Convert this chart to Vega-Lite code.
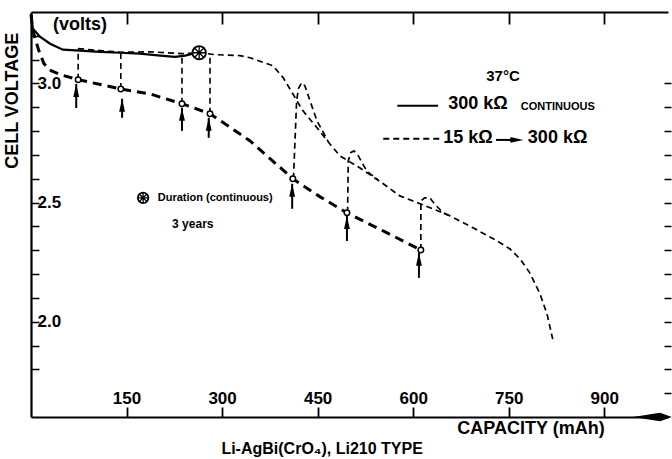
{
  "$schema": "https://vega.github.io/schema/vega-lite/v6.json",
  "width": 637,
  "height": 405,
  "autosize": {"type": "none"},
  "padding": {"left": 31, "top": 12, "right": 4, "bottom": 42},
  "background": "white",
  "config": {
    "view": {"stroke": null},
    "font": "Liberation Sans",
    "axis": {"domainColor": "black", "tickColor": "black", "labelColor": "black", "grid": false, "title": null, "labelFont": "Liberation Sans", "labelFontWeight": "bold"}
  },
  "datasets": {
    "solid": [
      {"c": 0, "v": 3.29}, {"c": 3, "v": 3.23}, {"c": 14, "v": 3.196}, {"c": 30, "v": 3.167},
      {"c": 50, "v": 3.142}, {"c": 77, "v": 3.138}, {"c": 108, "v": 3.133}, {"c": 140, "v": 3.129},
      {"c": 171, "v": 3.125}, {"c": 203, "v": 3.117}, {"c": 226, "v": 3.112}, {"c": 242, "v": 3.117},
      {"c": 257, "v": 3.127}, {"c": 264, "v": 3.129}
    ],
    "heavy": [
      {"c": 0, "v": 3.29}, {"c": 3, "v": 3.22}, {"c": 12, "v": 3.14}, {"c": 20, "v": 3.085},
      {"c": 28, "v": 3.058}, {"c": 46, "v": 3.037}, {"c": 74, "v": 3.016}, {"c": 141, "v": 2.977},
      {"c": 187, "v": 2.956}, {"c": 237, "v": 2.915}, {"c": 281, "v": 2.873}, {"c": 344, "v": 2.759},
      {"c": 411, "v": 2.6}, {"c": 454, "v": 2.524}, {"c": 496, "v": 2.457}, {"c": 556, "v": 2.377},
      {"c": 612, "v": 2.301}
    ],
    "thin": [
      {"seg": "u", "i": 1, "c": 74, "v": 3.146}, {"seg": "u", "i": 2, "c": 108, "v": 3.138},
      {"seg": "u", "i": 3, "c": 141, "v": 3.131}, {"seg": "u", "i": 4, "c": 187, "v": 3.133},
      {"seg": "u", "i": 5, "c": 237, "v": 3.125}, {"seg": "u", "i": 6, "c": 264, "v": 3.129},
      {"seg": "u", "i": 7, "c": 289, "v": 3.121}, {"seg": "u", "i": 8, "c": 328, "v": 3.117},
      {"seg": "u", "i": 9, "c": 344, "v": 3.108}, {"seg": "u", "i": 10, "c": 380, "v": 3.074},
      {"seg": "u", "i": 11, "c": 396, "v": 3.024}, {"seg": "u", "i": 12, "c": 410, "v": 2.961},
      {"seg": "u", "i": 13, "c": 427, "v": 2.885}, {"seg": "u", "i": 14, "c": 449, "v": 2.814},
      {"seg": "u", "i": 15, "c": 469, "v": 2.747}, {"seg": "u", "i": 16, "c": 485, "v": 2.696},
      {"seg": "u", "i": 17, "c": 516, "v": 2.646}, {"seg": "u", "i": 18, "c": 553, "v": 2.579},
      {"seg": "u", "i": 19, "c": 579, "v": 2.528}, {"seg": "u", "i": 20, "c": 611, "v": 2.495},
      {"seg": "u", "i": 21, "c": 658, "v": 2.444}, {"seg": "u", "i": 22, "c": 694, "v": 2.394},
      {"seg": "u", "i": 23, "c": 732, "v": 2.339}, {"seg": "u", "i": 24, "c": 752, "v": 2.305},
      {"seg": "u", "i": 25, "c": 768, "v": 2.263}, {"seg": "u", "i": 26, "c": 783, "v": 2.205},
      {"seg": "u", "i": 27, "c": 799, "v": 2.117}, {"seg": "u", "i": 28, "c": 810, "v": 2.033},
      {"seg": "u", "i": 29, "c": 819, "v": 1.927},
      {"seg": "b", "i": 1, "c": 412, "v": 2.6}, {"seg": "b", "i": 2, "c": 417, "v": 2.927},
      {"seg": "b", "i": 3, "c": 420, "v": 2.98}, {"seg": "b", "i": 4, "c": 425, "v": 3.003},
      {"seg": "b", "i": 5, "c": 430, "v": 2.99}, {"seg": "b", "i": 6, "c": 438, "v": 2.927},
      {"seg": "b", "i": 7, "c": 449, "v": 2.843}, {"seg": "b", "i": 8, "c": 466, "v": 2.759},
      {"seg": "c", "i": 1, "c": 497, "v": 2.457}, {"seg": "c", "i": 2, "c": 498, "v": 2.675},
      {"seg": "c", "i": 3, "c": 502, "v": 2.71}, {"seg": "c", "i": 4, "c": 507, "v": 2.717},
      {"seg": "c", "i": 5, "c": 513, "v": 2.7}, {"seg": "c", "i": 6, "c": 527, "v": 2.633},
      {"seg": "c", "i": 7, "c": 545, "v": 2.595},
      {"seg": "d", "i": 1, "c": 612, "v": 2.301}, {"seg": "d", "i": 2, "c": 612, "v": 2.507},
      {"seg": "d", "i": 3, "c": 618, "v": 2.52}, {"seg": "d", "i": 4, "c": 626, "v": 2.52},
      {"seg": "d", "i": 5, "c": 635, "v": 2.49}, {"seg": "d", "i": 6, "c": 647, "v": 2.457},
      {"seg": "d", "i": 7, "c": 658, "v": 2.444}
    ],
    "verticals": [
      {"c": 74, "v": 3.016, "v2": 3.146}, {"c": 141, "v": 2.977, "v2": 3.131},
      {"c": 237, "v": 2.915, "v2": 3.125}, {"c": 281, "v": 2.873, "v2": 3.121}
    ],
    "circles": [
      {"c": 74, "v": 3.016}, {"c": 141, "v": 2.977}, {"c": 237, "v": 2.915}, {"c": 281, "v": 2.873},
      {"c": 411, "v": 2.6}, {"c": 496, "v": 2.457}, {"c": 612, "v": 2.301}
    ],
    "arrows": [
      {"c": 71, "v": 2.897, "v2": 2.998}, {"c": 143, "v": 2.856, "v2": 2.936},
      {"c": 237, "v": 2.801, "v2": 2.898}, {"c": 279, "v": 2.772, "v2": 2.856},
      {"c": 410, "v": 2.474, "v2": 2.579}, {"c": 496, "v": 2.339, "v2": 2.444},
      {"c": 609, "v": 2.184, "v2": 2.289}
    ]
  },
  "layer": [
    {
      "data": {"name": "solid"},
      "mark": {"type": "line", "color": "black", "strokeWidth": 2.2},
      "encoding": {
        "x": {"field": "c", "type": "quantitative", "scale": {"domain": [0, 1000], "nice": false, "zero": false},
          "axis": {"orient": "bottom", "values": [150, 300, 450, 600, 750, 900], "tickSize": -10, "tickWidth": 1.8, "domainWidth": 2.2, "labelPadding": -4, "labelBaseline": "alphabetic", "labelFontSize": 17, "labelOverlap": false, "labelFlush": false, "labelBound": false}},
        "y": {"field": "v", "type": "quantitative", "scale": {"domain": [1.6, 3.3], "nice": false, "zero": false},
          "axis": {"orient": "left", "values": [1.8, 1.9, 2.0, 2.1, 2.2, 2.3, 2.4, 2.5, 2.6, 2.7, 2.8, 2.9, 3.0, 3.1, 3.2], "format": ".1f", "labelExpr": "indexof(['2.0','2.5','3.0'], datum.label) >= 0 ? datum.label : ''", "tickSize": -8, "tickWidth": 1.5, "domainWidth": 2.2, "labelAlign": "left", "labelPadding": 2, "labelBaseline": "middle", "labelFontSize": 17, "labelOverlap": false, "labelFlush": false, "labelBound": false}}
      }
    },
    {
      "data": {"name": "heavy"},
      "mark": {"type": "line", "color": "black", "strokeWidth": 3, "strokeDash": [9, 6]},
      "encoding": {
        "x": {"field": "c", "type": "quantitative", "scale": {"domain": [0, 1000], "nice": false, "zero": false},
          "axis": {"orient": "top", "values": [150, 300, 450, 600, 750, 900], "labels": false, "tickSize": -12, "tickWidth": 1.8, "domainWidth": 2.2}},
        "y": {"field": "v", "type": "quantitative", "scale": {"domain": [1.6, 3.3], "nice": false, "zero": false},
          "axis": {"orient": "right", "values": [1.7, 1.8, 1.9, 2.0, 2.1, 2.2, 2.3, 2.4, 2.5, 2.6, 2.7, 2.8, 2.9, 3.0], "labels": false, "domain": false, "tickSize": 7, "tickWidth": 1.5, "offset": -4}}
      }
    },
    {
      "data": {"name": "thin"},
      "mark": {"type": "line", "color": "black", "strokeWidth": 1.7, "strokeDash": [6, 4]},
      "encoding": {
        "x": {"field": "c", "type": "quantitative", "scale": {"domain": [0, 1000], "nice": false, "zero": false}, "axis": null},
        "y": {"field": "v", "type": "quantitative", "scale": {"domain": [1.6, 3.3], "nice": false, "zero": false}, "axis": null},
        "detail": {"field": "seg"},
        "order": {"field": "i", "type": "quantitative"}
      }
    },
    {
      "data": {"name": "verticals"},
      "mark": {"type": "rule", "color": "black", "strokeWidth": 1.6, "strokeDash": [6, 4]},
      "encoding": {
        "x": {"field": "c", "type": "quantitative", "scale": {"domain": [0, 1000], "nice": false, "zero": false}, "axis": null},
        "y": {"field": "v", "type": "quantitative", "scale": {"domain": [1.6, 3.3], "nice": false, "zero": false}, "axis": null},
        "y2": {"field": "v2"}
      }
    },
    {
      "data": {"name": "arrows"},
      "mark": {"type": "rule", "color": "black", "strokeWidth": 2},
      "encoding": {
        "x": {"field": "c", "type": "quantitative", "scale": {"domain": [0, 1000], "nice": false, "zero": false}, "axis": null},
        "y": {"field": "v", "type": "quantitative", "scale": {"domain": [1.6, 3.3], "nice": false, "zero": false}, "axis": null},
        "y2": {"field": "v2"}
      }
    },
    {
      "data": {"name": "arrows"},
      "mark": {"type": "point", "shape": "M0,0L0.45,2L-0.45,2Z", "size": 169, "filled": true, "color": "black", "opacity": 1},
      "encoding": {
        "x": {"field": "c", "type": "quantitative", "scale": {"domain": [0, 1000], "nice": false, "zero": false}, "axis": null},
        "y": {"field": "v2", "type": "quantitative", "scale": {"domain": [1.6, 3.3], "nice": false, "zero": false}, "axis": null}
      }
    },
    {
      "data": {"name": "circles"},
      "mark": {"type": "point", "shape": "circle", "size": 30, "filled": true, "fill": "white", "stroke": "black", "strokeWidth": 1.5, "opacity": 1},
      "encoding": {
        "x": {"field": "c", "type": "quantitative", "scale": {"domain": [0, 1000], "nice": false, "zero": false}, "axis": null},
        "y": {"field": "v", "type": "quantitative", "scale": {"domain": [1.6, 3.3], "nice": false, "zero": false}, "axis": null}
      }
    },
    {
      "data": {"values": [{"c": 264, "v": 3.129}]},
      "mark": {"type": "point", "shape": "circle", "size": 180, "filled": true, "fill": "white", "stroke": "black", "strokeWidth": 1.8, "opacity": 1},
      "encoding": {
        "x": {"field": "c", "type": "quantitative", "scale": {"domain": [0, 1000], "nice": false, "zero": false}, "axis": null},
        "y": {"field": "v", "type": "quantitative", "scale": {"domain": [1.6, 3.3], "nice": false, "zero": false}, "axis": null}
      }
    },
    {
      "data": {"values": [{"c": 264, "v": 3.129}]},
      "mark": {"type": "point", "shape": "M-1,0L1,0M0,-1L0,1M-0.71,-0.71L0.71,0.71M-0.71,0.71L0.71,-0.71", "size": 160, "filled": false, "stroke": "black", "strokeWidth": 1.3, "opacity": 1},
      "encoding": {
        "x": {"field": "c", "type": "quantitative", "scale": {"domain": [0, 1000], "nice": false, "zero": false}, "axis": null},
        "y": {"field": "v", "type": "quantitative", "scale": {"domain": [1.6, 3.3], "nice": false, "zero": false}, "axis": null}
      }
    },
    {
      "data": {"values": [{"c": 176, "v": 2.52}]},
      "mark": {"type": "point", "shape": "circle", "size": 110, "filled": true, "fill": "white", "stroke": "black", "strokeWidth": 1.8, "opacity": 1},
      "encoding": {
        "x": {"field": "c", "type": "quantitative", "scale": {"domain": [0, 1000], "nice": false, "zero": false}, "axis": null},
        "y": {"field": "v", "type": "quantitative", "scale": {"domain": [1.6, 3.3], "nice": false, "zero": false}, "axis": null}
      }
    },
    {
      "data": {"values": [{"c": 176, "v": 2.52}]},
      "mark": {"type": "point", "shape": "M-1,0L1,0M0,-1L0,1M-0.71,-0.71L0.71,0.71M-0.71,0.71L0.71,-0.71", "size": 100, "filled": false, "stroke": "black", "strokeWidth": 1.3, "opacity": 1},
      "encoding": {
        "x": {"field": "c", "type": "quantitative", "scale": {"domain": [0, 1000], "nice": false, "zero": false}, "axis": null},
        "y": {"field": "v", "type": "quantitative", "scale": {"domain": [1.6, 3.3], "nice": false, "zero": false}, "axis": null}
      }
    },
    {
      "data": {"values": [{"c": 1006, "v": 1.6}]},
      "mark": {"type": "point", "shape": "M0,0L-0.6,-0.22L-2,0L-0.6,0.22Z", "size": 1521, "filled": true, "color": "black", "opacity": 1},
      "encoding": {
        "x": {"field": "c", "type": "quantitative", "scale": {"domain": [0, 1000], "nice": false, "zero": false}, "axis": null},
        "y": {"field": "v", "type": "quantitative", "scale": {"domain": [1.6, 3.3], "nice": false, "zero": false}, "axis": null}
      }
    },
    {
      "data": {"values": [{"c": 575, "v": 2.906, "c2": 639}]},
      "mark": {"type": "rule", "color": "black", "strokeWidth": 2},
      "encoding": {
        "x": {"field": "c", "type": "quantitative", "scale": {"domain": [0, 1000], "nice": false, "zero": false}, "axis": null},
        "x2": {"field": "c2"},
        "y": {"field": "v", "type": "quantitative", "scale": {"domain": [1.6, 3.3], "nice": false, "zero": false}, "axis": null}
      }
    },
    {
      "data": {"values": [{"c": 553, "v": 2.768, "c2": 643}]},
      "mark": {"type": "rule", "color": "black", "strokeWidth": 1.8, "strokeDash": [6, 4]},
      "encoding": {
        "x": {"field": "c", "type": "quantitative", "scale": {"domain": [0, 1000], "nice": false, "zero": false}, "axis": null},
        "x2": {"field": "c2"},
        "y": {"field": "v", "type": "quantitative", "scale": {"domain": [1.6, 3.3], "nice": false, "zero": false}, "axis": null}
      }
    },
    {
      "data": {"values": [{"c": 730, "v": 2.763, "c2": 760}]},
      "mark": {"type": "rule", "color": "black", "strokeWidth": 2},
      "encoding": {
        "x": {"field": "c", "type": "quantitative", "scale": {"domain": [0, 1000], "nice": false, "zero": false}, "axis": null},
        "x2": {"field": "c2"},
        "y": {"field": "v", "type": "quantitative", "scale": {"domain": [1.6, 3.3], "nice": false, "zero": false}, "axis": null}
      }
    },
    {
      "data": {"values": [{"c": 773, "v": 2.763}]},
      "mark": {"type": "point", "shape": "M0,0L-2,-0.45L-2,0.45Z", "size": 169, "filled": true, "color": "black", "opacity": 1},
      "encoding": {
        "x": {"field": "c", "type": "quantitative", "scale": {"domain": [0, 1000], "nice": false, "zero": false}, "axis": null},
        "y": {"field": "v", "type": "quantitative", "scale": {"domain": [1.6, 3.3], "nice": false, "zero": false}, "axis": null}
      }
    },
    {
      "data": {"values": [{"c": 655, "v": 2.915, "t": "300 kΩ"}, {"c": 647, "v": 2.772, "t": "15 kΩ"}, {"c": 780, "v": 2.772, "t": "300 kΩ"}]},
      "mark": {"type": "text", "align": "left", "baseline": "middle", "font": "Liberation Sans", "fontWeight": "bold", "fontSize": 18, "color": "black"},
      "encoding": {
        "x": {"field": "c", "type": "quantitative", "scale": {"domain": [0, 1000], "nice": false, "zero": false}, "axis": null},
        "y": {"field": "v", "type": "quantitative", "scale": {"domain": [1.6, 3.3], "nice": false, "zero": false}, "axis": null},
        "text": {"field": "t"}
      }
    },
    {
      "data": {"values": [{"c": 769, "v": 2.903, "t": "CONTINUOUS"}]},
      "mark": {"type": "text", "align": "left", "baseline": "middle", "font": "Liberation Sans", "fontWeight": "bold", "fontSize": 11, "color": "black"},
      "encoding": {
        "x": {"field": "c", "type": "quantitative", "scale": {"domain": [0, 1000], "nice": false, "zero": false}, "axis": null},
        "y": {"field": "v", "type": "quantitative", "scale": {"domain": [1.6, 3.3], "nice": false, "zero": false}, "axis": null},
        "text": {"field": "t"}
      }
    },
    {
      "data": {"values": [{"c": 741, "v": 3.032, "t": "37°C"}]},
      "mark": {"type": "text", "align": "center", "baseline": "middle", "font": "Liberation Sans", "fontWeight": "bold", "fontSize": 15, "color": "black"},
      "encoding": {
        "x": {"field": "c", "type": "quantitative", "scale": {"domain": [0, 1000], "nice": false, "zero": false}, "axis": null},
        "y": {"field": "v", "type": "quantitative", "scale": {"domain": [1.6, 3.3], "nice": false, "zero": false}, "axis": null},
        "text": {"field": "t"}
      }
    },
    {
      "data": {"values": [{"c": 199, "v": 2.52, "t": "Duration (continuous)"}]},
      "mark": {"type": "text", "align": "left", "baseline": "middle", "font": "Liberation Sans", "fontWeight": "bold", "fontSize": 11, "color": "black"},
      "encoding": {
        "x": {"field": "c", "type": "quantitative", "scale": {"domain": [0, 1000], "nice": false, "zero": false}, "axis": null},
        "y": {"field": "v", "type": "quantitative", "scale": {"domain": [1.6, 3.3], "nice": false, "zero": false}, "axis": null},
        "text": {"field": "t"}
      }
    },
    {
      "data": {"values": [{"c": 254, "v": 2.41, "t": "3 years"}]},
      "mark": {"type": "text", "align": "center", "baseline": "middle", "font": "Liberation Sans", "fontWeight": "bold", "fontSize": 12, "color": "black"},
      "encoding": {
        "x": {"field": "c", "type": "quantitative", "scale": {"domain": [0, 1000], "nice": false, "zero": false}, "axis": null},
        "y": {"field": "v", "type": "quantitative", "scale": {"domain": [1.6, 3.3], "nice": false, "zero": false}, "axis": null},
        "text": {"field": "t"}
      }
    },
    {
      "data": {"values": [{"c": 77, "v": 3.247, "t": "(volts)"}, {"c": 785, "v": 1.549, "t": "CAPACITY (mAh)"}]},
      "mark": {"type": "text", "align": "center", "baseline": "middle", "font": "Liberation Sans", "fontWeight": "bold", "fontSize": 18, "color": "black"},
      "encoding": {
        "x": {"field": "c", "type": "quantitative", "scale": {"domain": [0, 1000], "nice": false, "zero": false}, "axis": null},
        "y": {"field": "v", "type": "quantitative", "scale": {"domain": [1.6, 3.3], "nice": false, "zero": false}, "axis": null},
        "text": {"field": "t"}
      }
    },
    {
      "data": {"values": [{"c": 457, "v": 1.465, "t": "Li-AgBi(CrO₄), Li210 TYPE"}]},
      "mark": {"type": "text", "align": "center", "baseline": "middle", "font": "Liberation Sans", "fontWeight": "bold", "fontSize": 16, "color": "black"},
      "encoding": {
        "x": {"field": "c", "type": "quantitative", "scale": {"domain": [0, 1000], "nice": false, "zero": false}, "axis": null},
        "y": {"field": "v", "type": "quantitative", "scale": {"domain": [1.6, 3.3], "nice": false, "zero": false}, "axis": null},
        "text": {"field": "t"}
      }
    },
    {
      "data": {"values": [{"c": -28, "v": 2.927, "t": "CELL VOLTAGE"}]},
      "mark": {"type": "text", "align": "center", "baseline": "middle", "angle": 270, "font": "Liberation Sans", "fontWeight": "bold", "fontSize": 18, "color": "black"},
      "encoding": {
        "x": {"field": "c", "type": "quantitative", "scale": {"domain": [0, 1000], "nice": false, "zero": false}, "axis": null},
        "y": {"field": "v", "type": "quantitative", "scale": {"domain": [1.6, 3.3], "nice": false, "zero": false}, "axis": null},
        "text": {"field": "t"}
      }
    }
  ],
  "resolve": {"axis": {"x": "independent", "y": "independent"}}
}
